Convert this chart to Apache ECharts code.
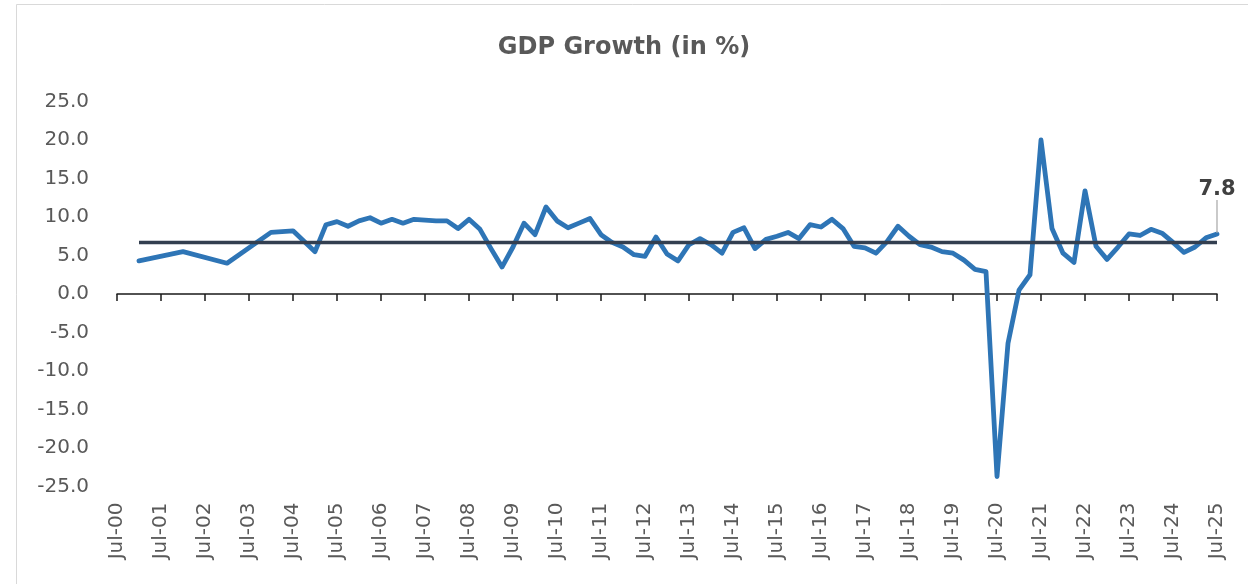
<!DOCTYPE html>
<html>
<head>
<meta charset="utf-8">
<script src="https://cdn.jsdelivr.net/npm/echarts@6/dist/echarts.min.js"></script>
<style>
html,body{margin:0;padding:0;background:#fff;}
#chart{width:1248px;height:584px;}
</style>
</head>
<body>
<div id="chart"></div>
<script>
// ---- data ----
const titleText = 'GDP Growth (in %)';
const dates = [
 'Jan-01','Jan-02','Jan-03','Jan-04','Jul-04','Jan-05',
 'Apr-05','Jul-05','Oct-05','Jan-06','Apr-06','Jul-06','Oct-06','Jan-07',
 'Apr-07','Jul-07','Oct-07','Jan-08','Apr-08','Jul-08','Oct-08','Jan-09',
 'Apr-09','Jul-09','Oct-09','Jan-10','Apr-10','Jul-10','Oct-10','Jan-11',
 'Apr-11','Jul-11','Oct-11','Jan-12','Apr-12','Jul-12','Oct-12','Jan-13',
 'Apr-13','Jul-13','Oct-13','Jan-14','Apr-14','Jul-14','Oct-14','Jan-15',
 'Apr-15','Jul-15','Oct-15','Jan-16','Apr-16','Jul-16','Oct-16','Jan-17',
 'Apr-17','Jul-17','Oct-17','Jan-18','Apr-18','Jul-18','Oct-18','Jan-19',
 'Apr-19','Jul-19','Oct-19','Jan-20','Apr-20','Jul-20','Oct-20','Jan-21',
 'Apr-21','Jul-21','Oct-21','Jan-22','Apr-22','Jul-22','Oct-22','Jan-23',
 'Apr-23','Jul-23','Oct-23','Jan-24','Apr-24','Jul-24','Oct-24','Jan-25',
 'Apr-25','Jul-25'
];
const gdpGrowth = [
 4.3, 5.5, 4.0, 8.0, 8.2, 5.5,
 9.0, 9.4, 8.8, 9.5, 9.9, 9.2, 9.7, 9.2,
 9.7, 9.6, 9.5, 9.5, 8.5, 9.7, 8.4, 5.9,
 3.5, 6.1, 9.2, 7.7, 11.3, 9.5, 8.6, 9.2,
 9.8, 7.7, 6.7, 6.1, 5.1, 4.9, 7.4, 5.2,
 4.3, 6.4, 7.2, 6.4, 5.3, 8.0, 8.6, 5.9,
 7.1, 7.5, 8.0, 7.2, 9.0, 8.7, 9.7, 8.5,
 6.2, 6.0, 5.3, 6.8, 8.8, 7.5, 6.4, 6.1,
 5.5, 5.3, 4.4, 3.2, 2.9, -23.7, -6.4, 0.5,
 2.5, 20.0, 8.5, 5.3, 4.1, 13.4, 6.2, 4.5,
 6.1, 7.8, 7.6, 8.4, 7.9, 6.7, 5.4, 6.1,
 7.3, 7.8
];
const averageGrowth = 6.7;
const xTickLabels = [
 'Jul-00','Jul-01','Jul-02','Jul-03','Jul-04','Jul-05','Jul-06','Jul-07','Jul-08',
 'Jul-09','Jul-10','Jul-11','Jul-12','Jul-13','Jul-14','Jul-15','Jul-16','Jul-17',
 'Jul-18','Jul-19','Jul-20','Jul-21','Jul-22','Jul-23','Jul-24','Jul-25'
];
const yMin = -25, yMax = 25, yStep = 5;

// ---- helpers ----
const MONTHS = ['Jan','Feb','Mar','Apr','May','Jun','Jul','Aug','Sep','Oct','Nov','Dec'];
function dateToX(s){ // years since Jul-2000
  const [m, y] = s.split('-');
  return parseInt(y,10) + (MONTHS.indexOf(m) - 6) / 12;
}
const xs = dates.map(dateToX);
const lastIdx = gdpGrowth.length - 1;
const FONT = 'DejaVu Sans';
const gdpData = gdpGrowth.map((v, i) => {
  if (i === lastIdx) {
    return {
      value: [xs[i], v],
      symbol: 'circle', symbolSize: 2,
      itemStyle: { color: '#2e75b6' },
      label: {
        show: true, position: 'top', distance: 2,
        formatter: p => p.value[1].toFixed(1),
        fontFamily: FONT, fontWeight: 'bold', fontSize: 21, color: '#404040',
        opacity: 1
      },
      labelLine: { show: true, lineStyle: { color: '#a6a6a6', width: 1.2 } }
    };
  }
  return { value: [xs[i], v], symbol: 'none' };
});
const avgData = [[xs[0], averageGrowth], [xs[lastIdx], averageGrowth]];

const chart = echarts.init(document.getElementById('chart'), null, { renderer: 'canvas' });
chart.setOption({
  animation: false,
  backgroundColor: '#ffffff',
  title: {
    text: titleText, left: 'center', top: 31,
    textStyle: { fontFamily: FONT, fontWeight: 'bold', fontSize: 24, color: '#595959' }
  },
  graphic: [{
    type: 'rect', left: 14, top: 2, silent: true, z: -10,
    shape: { width: 1260, height: 600 },
    style: { fill: 'none', stroke: '#d9d9d9', lineWidth: 1 }
  }],
  grid: { left: 117, right: 31, top: 101.5, bottom: 97.5, containLabel: false },
  xAxis: [{
    type: 'value', min: 0, max: 25, interval: 1, position: 'bottom',
    axisLine: { show: true, onZero: true, lineStyle: { color: '#1a1a1a', width: 1.5 } },
    axisTick: { show: true, length: 7, lineStyle: { color: '#1a1a1a', width: 1.5 } },
    axisLabel: { show: false },
    splitLine: { show: false }
  }, {
    type: 'value', min: 0, max: 25, interval: 1, position: 'bottom',
    axisLine: { show: false, onZero: false },
    axisTick: { show: false },
    axisLabel: {
      show: true, rotate: 90, margin: 16,
      fontFamily: FONT, fontSize: 20, color: '#595959',
      formatter: v => xTickLabels[Math.round(v)]
    },
    splitLine: { show: false }
  }],
  yAxis: {
    type: 'value', min: yMin, max: yMax, interval: yStep,
    axisLine: { show: false }, axisTick: { show: false },
    splitLine: { show: false },
    axisLabel: {
      margin: 28, fontFamily: FONT, fontSize: 20, color: '#595959',
      formatter: v => v.toFixed(1)
    }
  },
  series: [{
    name: 'GDP Growth', type: 'line', xAxisIndex: 0,
    data: gdpData, showSymbol: true, showAllSymbol: true,
    lineStyle: { color: '#2e75b6', width: 4.8, join: 'round', cap: 'round' },
    itemStyle: { color: '#2e75b6' },
    labelLayout: { dy: -31, hideOverlap: false },
    z: 2
  }, {
    name: 'Average', type: 'line', xAxisIndex: 0,
    data: avgData, showSymbol: false, symbol: 'none',
    lineStyle: { color: '#333f50', width: 3.5 },
    z: 3
  }]
});
</script>
</body>
</html>
